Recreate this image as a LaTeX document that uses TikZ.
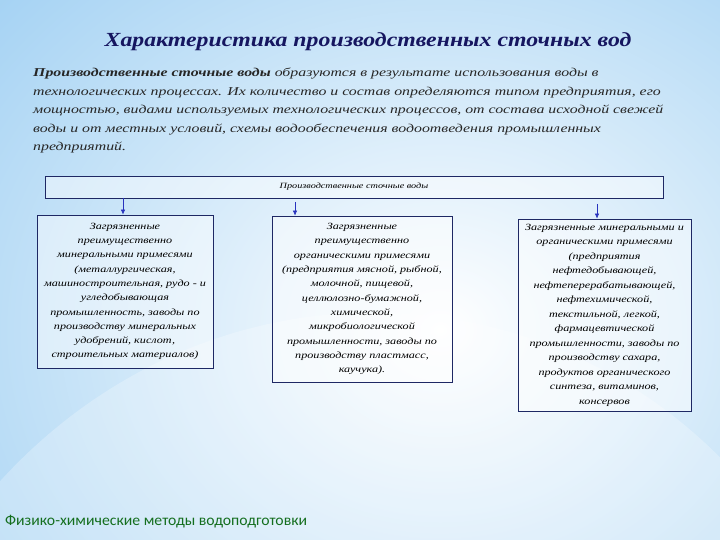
\documentclass[tikz,border=0pt]{standalone}
\usepackage{fontspec}
\setmainfont{Liberation Serif}
\newfontfamily\titlefont[FakeStretch=1.19]{Liberation Serif}
\newfontfamily\parafont[FakeStretch=1.32]{Liberation Serif}
\newfontfamily\boxfont[FakeStretch=1.28]{Liberation Serif}
\newfontfamily\footfont[FakeStretch=1.03]{Carlito}
\usetikzlibrary{arrows.meta}
\definecolor{bgblue}{RGB}{140,198,240}
\definecolor{navy}{RGB}{22,22,96}
\definecolor{boxline}{RGB}{30,40,100}
\definecolor{arrblue}{RGB}{40,50,190}
\definecolor{footgreen}{RGB}{20,110,30}
\tikzset{
  panel/.style={draw=boxline, line width=0.8pt, fill=white, fill opacity=0.45, text opacity=1,
    align=center, inner sep=2pt, font=\boxfont\itshape\fontsize{9.5}{14.3}\selectfont, text=black},
  arr/.style={draw=arrblue, line width=0.6pt, -{Latex[length=5pt,width=4.5pt]}}
}
\begin{document}
\begin{tikzpicture}[x=1pt,y=-1pt]
\useasboundingbox (0,0) rectangle (720,540);
\begin{scope}
\clip (0,0) rectangle (720,540);
\fill[bgblue] (0,0) rectangle (720,540);
\shade[inner color=white, outer color=bgblue] (440,330) ellipse [x radius=760, y radius=640];
\fill[white, opacity=0.25] (-60,560) .. controls (150,230) and (600,230) .. (800,560) -- cycle;
\end{scope}

\node[font=\titlefont\bfseries\itshape\fontsize{20}{24}\selectfont, text=navy] (title) at (368,42)
  {Характеристика производственных сточных вод};

\node[anchor=north west, align=left, inner sep=0pt,
  font=\parafont\itshape\fontsize{12}{18.5}\selectfont, text=black!85] (para) at (33,68)
  {\textbf{Производственные сточные воды} образуются в результате использования воды в\\
   технологических процессах. Их количество и состав определяются типом предприятия, его\\
   мощностью, видами используемых технологических процессов, от состава исходной свежей\\
   воды и от местных условий, схемы водообеспечения водоотведения промышленных\\
   предприятий.};

\node[panel, minimum width=618pt, minimum height=22pt,
  font=\boxfont\itshape\fontsize{8}{10}\selectfont] (top) at (354,187)
  {Производственные сточные воды};

\node[panel, minimum width=176pt, minimum height=153pt] (b1) at (125,291.5)
  {Загрязненные\\ преимущественно\\ минеральными примесями\\ (металлургическая,\\
   машиностроительная, рудо - и\\ угледобывающая\\ промышленность, заводы по\\
   производству минеральных\\ удобрений, кислот,\\ строительных материалов)};

\node[panel, minimum width=180pt, minimum height=166pt] (b2) at (362,299)
  {Загрязненные\\ преимущественно\\ органическими примесями\\ (предприятия мясной, рыбной,\\
   молочной, пищевой,\\ целлюлозно-бумажной,\\ химической,\\ микробиологической\\
   промышленности, заводы по\\ производству пластмасс,\\ каучука).};

\node[panel, minimum width=173pt, minimum height=192pt,
  font=\boxfont\itshape\fontsize{9.5}{14.5}\selectfont] (b3) at (604.5,315)
  {Загрязненные минеральными и\\ органическими примесями\\ (предприятия\\ нефтедобывающей,\\
   нефтеперерабатывающей,\\ нефтехимической,\\ текстильной, легкой,\\ фармацевтической\\
   промышленности, заводы по\\ производству сахара,\\ продуктов органического\\
   синтеза, витаминов,\\ консервов};

\coordinate (s1) at (123,198);
\coordinate (s2) at (295,202);
\coordinate (s3) at (597,204);
\draw[arr] (s1) -- (s1 |- b1.north);
\draw[arr] (s2) -- (s2 |- b2.north);
\draw[arr] (s3) -- (s3 |- b3.north);

\node[anchor=west, inner sep=0pt, font=\footfont\fontsize{15.3}{17}\selectfont, text=footgreen]
  (foot) at (5,522) {Физико-химические методы водоподготовки};
\end{tikzpicture}
\end{document}
